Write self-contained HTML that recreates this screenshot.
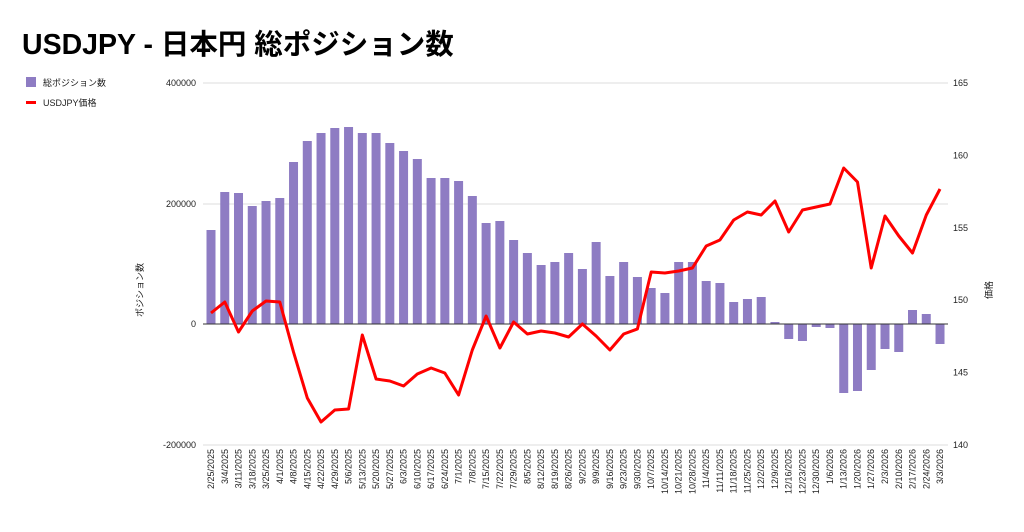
<!DOCTYPE html><html><head><meta charset="utf-8"><style>
body{margin:0;background:#fff;font-family:"Liberation Sans","Noto Sans CJK JP",sans-serif}
</style></head><body>
<svg id="c" width="1024" height="527" xmlns="http://www.w3.org/2000/svg" font-family="Liberation Sans, Noto Sans CJK JP, sans-serif">
<text x="22" y="54" font-size="28.5" font-weight="bold" fill="#000">USDJPY - 日本円 総ポジション数</text>
<rect x="26" y="77" width="10" height="10" fill="#8e7cc3"/>
<text x="43" y="86" font-size="9" fill="#222">総ポジション数</text>
<rect x="26" y="101" width="10" height="3" fill="#f00"/>
<text x="43" y="106" font-size="9" fill="#222">USDJPY価格</text>
<g id="g"></g>
<text transform="translate(143,290) rotate(-90)" font-size="9" text-anchor="middle" fill="#222">ポジション数</text>
<text transform="translate(992,290) rotate(-90)" font-size="9" text-anchor="middle" fill="#222">価格</text>
</svg>
<script>
var bars=[230,192,193,206,201,198,162,141,133,128,127,133,133,143,151,159,178,178,181,196,223,221,240,253,265,262,253,269,242,276,262,277,288,293,262,262,281,283,302,299,297,322,339,341,327,328,393,391,370,349,352,310,314,344];
var line=[313,302,332,311,301,302,352,398,422,410,409,335,379,381,386,374,368,373,395,350,316,348,322,334,331,333,337,324,336,350,334,329,272,273,271,268,246,240,220,212,215,201,232,210,207,204,168,182,268,216,236,253,215,189];
var d=["2/25/2025","3/4/2025","3/11/2025","3/18/2025","3/25/2025","4/1/2025","4/8/2025","4/15/2025","4/22/2025","4/29/2025","5/6/2025","5/13/2025","5/20/2025","5/27/2025","6/3/2025","6/10/2025","6/17/2025","6/24/2025","7/1/2025","7/8/2025","7/15/2025","7/22/2025","7/29/2025","8/5/2025","8/12/2025","8/19/2025","8/26/2025","9/2/2025","9/9/2025","9/16/2025","9/23/2025","9/30/2025","10/7/2025","10/14/2025","10/21/2025","10/28/2025","11/4/2025","11/11/2025","11/18/2025","11/25/2025","12/2/2025","12/9/2025","12/16/2025","12/23/2025","12/30/2025","1/6/2026","1/13/2026","1/20/2026","1/27/2026","2/3/2026","2/10/2026","2/17/2026","2/24/2026","3/3/2026"];
var s="";
[83,204,445].forEach(function(y){s+='<line x1="203" x2="948" y1="'+y+'" y2="'+y+'" stroke="#ddd" stroke-width="1"/>';});
[[83,"400000"],[204,"200000"],[324,"0"],[445,"-200000"]].forEach(function(a){s+='<text x="196" y="'+(a[0]+3)+'" font-size="9" text-anchor="end" fill="#222">'+a[1]+'</text>';});
[165,160,155,150,145,140].forEach(function(v,i){var y=83+i*72.4;s+='<text x="953" y="'+(y+3)+'" font-size="9" fill="#222">'+v+'</text>';});
var pts=[];
for(var i=0;i<54;i++){var x=211+i*13.755;var t=bars[i];var y0=Math.min(t,324),h=Math.abs(324-t);
s+='<rect x="'+(x-4.5)+'" y="'+y0+'" width="9" height="'+Math.max(h,1)+'" fill="#8e7cc3"/>';
pts.push(x.toFixed(1)+","+line[i]);
s+='<text transform="translate('+(x+3)+',449) rotate(-90)" font-size="9" text-anchor="end" fill="#222">'+d[i]+'</text>';}
s+='<line x1="203" x2="948" y1="324" y2="324" stroke="#333" stroke-width="1"/>';
s+='<polyline points="'+pts.join(" ")+'" fill="none" stroke="#f00" stroke-width="3" stroke-linejoin="round"/>';
document.getElementById("g").innerHTML=s;
</script>
</body></html>
